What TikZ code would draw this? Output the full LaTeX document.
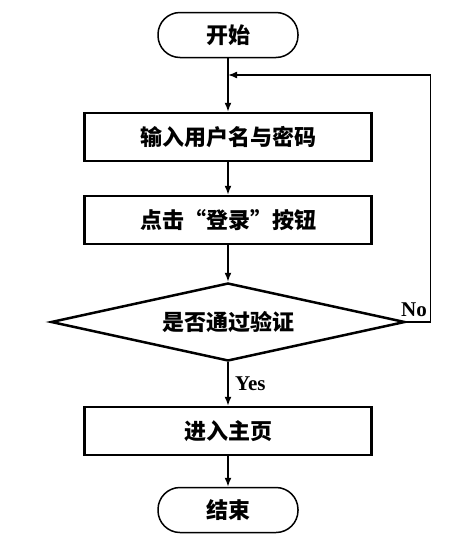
\documentclass[tikz,border=0pt]{standalone}
\usepackage{fontspec}
\setmainfont{Liberation Serif}
\newfontfamily\cjk{Noto Sans CJK SC}
\usetikzlibrary{arrows.meta,shapes.geometric}

\tikzset{
  cntext/.style={font=\cjk\bfseries\fontsize{22}{25}\selectfont},
  term/.style={cntext, draw, line width=1.5pt, rounded corners=22pt,
    minimum width=140pt, minimum height=45pt},
  proc/.style={cntext, draw, line width=2.5pt,
    minimum width=287pt, minimum height=48pt},
  decide/.style={cntext, draw, diamond, line width=2.5pt, inner sep=0pt,
    aspect=4.5, minimum width=354pt, minimum height=78pt},
  flow/.style={line width=1.5pt, -{Latex[length=9pt,width=7pt]}},
  lbl/.style={font=\bfseries\fontsize{21}{23}\selectfont, inner sep=0pt}
}

\begin{document}
\begin{tikzpicture}[x=1pt, y=-1pt]
	%%%%% START %%%%%
	\useasboundingbox (0,0) rectangle (454,544);
	
	\node[term] (start) at (228,35) {开始};
	\node[proc] (input) at (228,137) {输入用户名与密码};
	\node[proc] (click) at (228,220) {点击“登录”按钮};
	\node[decide] (check) at (228,322) {是否通过验证};
	\node[proc] (home) at (228,431) {进入主页};
	\node[term] (stop) at (228,510) {结束};
	
	\coordinate (loop) at (228,75);
	
	\draw[flow] (start) -- (input);
	\draw[flow] (input) -- (click);
	\draw[flow] (click) -- (check);
	\draw[flow] (check) -- (home);
	\draw[flow] (home) -- (stop);
	\draw[flow] (check.east) -- ++(24,0) |- (loop);
	
	\node[lbl] (no) at (414,310) {No};
	\node[lbl, anchor=west] (yes) at (235,384) {Yes};
	%%%%% END %%%%%
\end{tikzpicture}
\end{document}
